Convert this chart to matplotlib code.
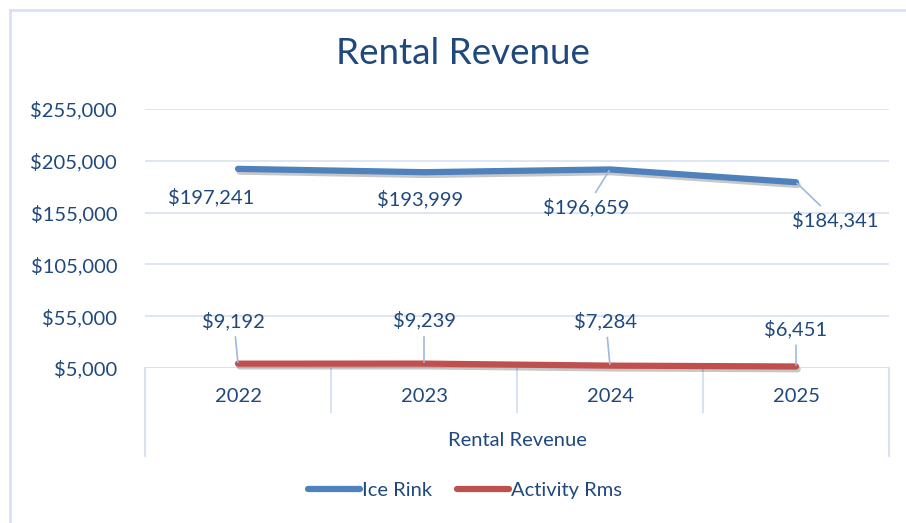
import matplotlib
matplotlib.use("Agg")
import matplotlib.pyplot as plt
import matplotlib.patheffects as pe
from matplotlib.lines import Line2D

plt.rcParams['font.family'] = ['Lato', 'DejaVu Sans']

years = ["2022", "2023", "2024", "2025"]
ice_rink = [197241, 193999, 196659, 184341]
activity_rms = [9192, 9239, 7284, 6451]
y_ticks = [5000, 55000, 105000, 155000, 205000, 255000]
series_names = ["Ice Rink", "Activity Rms"]
axis_group = "Rental Revenue"
title = "Rental Revenue"

TEXT = "#1F497D"
GRID = "#D9E2F1"
BLUE = "#4F81BD"
RED = "#C0504D"
LEADER = "#9DB9E0"
FS = 14.5

W, H = 906, 523
fig = plt.figure(figsize=(W / 100, H / 100), dpi=100)

def fx(px):
    return px / W

def fy(py):
    return 1 - py / H

# chart-area border (top and left visible)
fig.add_artist(Line2D([fx(10), fx(906)], [fy(10), fy(10)], color=GRID, lw=2))
fig.add_artist(Line2D([fx(10), fx(10)], [fy(10), fy(523)], color=GRID, lw=2))

left, right, top, bottom = 145, 889, 109, 368
ax = fig.add_axes([fx(left), fy(bottom), fx(right - left), fy(top) - fy(bottom)])
ax.set_xlim(-0.5, len(years) - 0.5)
ax.set_ylim(y_ticks[0], y_ticks[-1])
ax.set_yticks(y_ticks)
ax.set_yticklabels([f"${v:,.0f}" for v in y_ticks])
ax.tick_params(axis='y', length=0, pad=20, labelsize=FS, labelcolor=TEXT)
ax.set_xticks([])
for s in ax.spines.values():
    s.set_visible(False)
ax.grid(axis='y', color=GRID, lw=1.2)
ax.set_axisbelow(True)
ax.axhline(y_ticks[0], color=GRID, lw=1.5, zorder=1)

x = list(range(len(years)))
shadow = [pe.SimpleLineShadow(offset=(1.2, -2.0), shadow_color='black', alpha=0.22, rho=0.3), pe.Normal()]
ax.plot(x, ice_rink, color=BLUE, lw=4.5, solid_capstyle='round', solid_joinstyle='round',
        path_effects=shadow, zorder=3, clip_on=False)
ax.plot(x, activity_rms, color=RED, lw=4.5, solid_capstyle='round', solid_joinstyle='round',
        path_effects=shadow, zorder=3, clip_on=False)

# data labels (offsets in points) with leader lines
ice_offsets = [(-19, -20), (-3, -19), (-17, -27), (28, -27)]
ice_leaders = [False, False, True, True]
for i, (v, off, lead) in enumerate(zip(ice_rink, ice_offsets, ice_leaders)):
    ax.annotate(f"${v:,.0f}", (i, v), xytext=off, textcoords='offset points',
                ha='center', va='center', fontsize=FS, color=TEXT,
                arrowprops=dict(arrowstyle='-', color=LEADER, lw=1.2, shrinkA=2, shrinkB=1) if lead else None)

act_offsets = [(-3, 31), (0, 31), (-3, 32), (0, 27)]
for i, (v, off) in enumerate(zip(activity_rms, act_offsets)):
    ax.annotate(f"${v:,.0f}", (i, v), xytext=off, textcoords='offset points',
                ha='center', va='center', fontsize=FS, color=TEXT,
                arrowprops=dict(arrowstyle='-', color=LEADER, lw=1.2, shrinkA=3, shrinkB=1))

# multi-level category axis
trans = ax.get_xaxis_transform()
for b in range(len(years) + 1):
    xb = b - 0.5
    inner = b not in (0, len(years))
    y_end = 412 if inner else 456
    ax.plot([xb, xb], [0, -(y_end - bottom) / (bottom - top)], transform=trans,
            color=GRID, lw=1.5, clip_on=False)
for i, yr in enumerate(years):
    ax.text(i, -(397 - bottom) / (bottom - top), yr, transform=trans, ha='center', va='center',
            fontsize=FS, color=TEXT)
ax.text((len(years) - 1) / 2, -(441 - bottom) / (bottom - top), axis_group, transform=trans,
        ha='center', va='center', fontsize=FS, color=TEXT)

fig.text(fx(463), fy(54), title, ha='center', va='center', fontsize=26.5, color=TEXT)

handles = [Line2D([], [], color=BLUE, lw=4.5, solid_capstyle='round'),
           Line2D([], [], color=RED, lw=4.5, solid_capstyle='round')]
fig.legend(handles, series_names, loc='center', bbox_to_anchor=(fx(465), fy(490)), ncol=2,
           frameon=False, fontsize=FS, labelcolor=TEXT, handlelength=2.6, handletextpad=0.1,
           columnspacing=1.2)

fig.savefig("out.png", dpi=100, facecolor='white')
